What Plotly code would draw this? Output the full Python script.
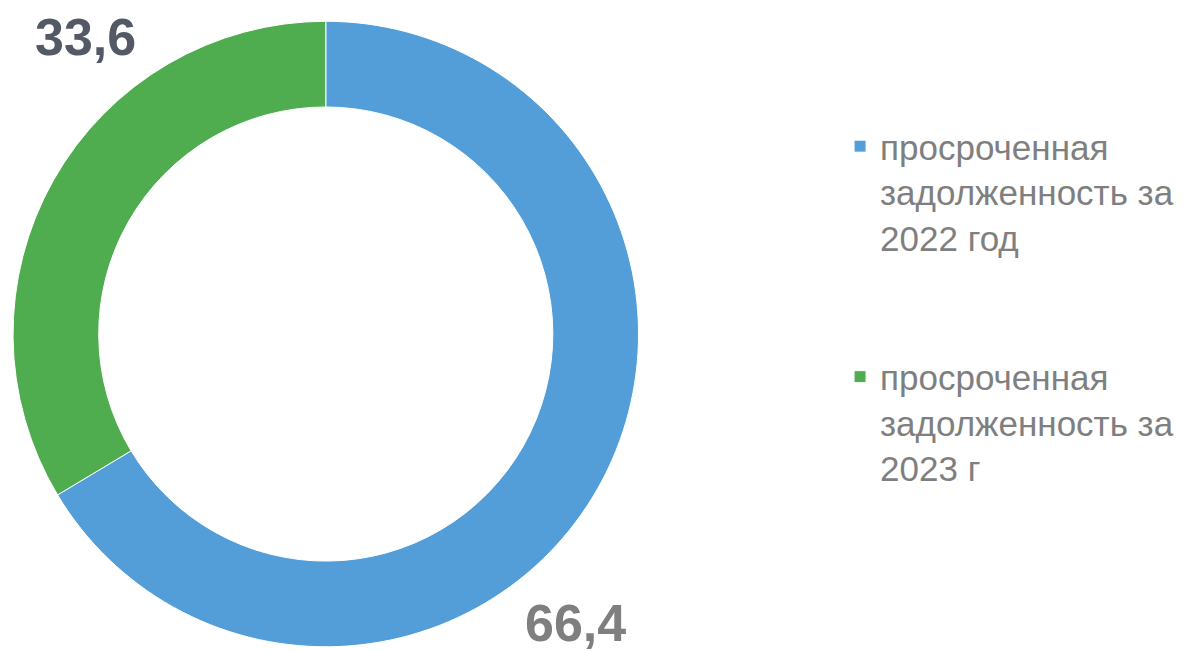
import plotly.graph_objects as go

# --- data ---
labels = [
    "просроченная<br>задолженность за<br>2022 год",
    "просроченная<br>задолженность за<br>2023 г",
]
values = [66.4, 33.6]
colors = ["#539ED8", "#4FAD50"]
label_colors = ["#7F7F7F", "#535A65"]

FONT = "Liberation Sans, Arial, sans-serif"

# pad legend entries so the two items sit far apart, like the original
legend_labels = [lab + "<br> <br> " for lab in labels]

fig = go.Figure()
fig.add_trace(
    go.Pie(
        labels=legend_labels,
        values=values,
        hole=0.726,
        sort=False,
        direction="clockwise",
        rotation=0,
        marker=dict(colors=colors, line=dict(color="white", width=1)),
        textinfo="none",
        hoverinfo="value",
        domain=dict(x=[0.0042, 0.5272], y=[0.0184, 0.98]),
    )
)

# value labels (placed like the source chart, outside the ring)
label_pos = [(0.4741, 0.0553), (0.0644, 0.955)]
for v, c, (px, py) in zip(values, label_colors, label_pos):
    fig.add_annotation(
        x=px, y=py, xref="paper", yref="paper",
        xanchor="center", yanchor="middle",
        text=f"{v:.1f}".replace(".", ","),
        showarrow=False,
        font=dict(family=FONT, size=52, color=c, weight="bold"),
    )

fig.update_layout(
    width=1196,
    height=651,
    margin=dict(l=0, r=0, t=0, b=0),
    paper_bgcolor="white",
    plot_bgcolor="white",
    showlegend=True,
    legend=dict(
        x=0.6957, xanchor="left",
        y=0.8327, yanchor="top",
        valign="top",
        font=dict(family=FONT, size=35, color="#7F7F7F"),
        bgcolor="rgba(0,0,0,0)",
    ),
)

fig.write_html("out.html")
